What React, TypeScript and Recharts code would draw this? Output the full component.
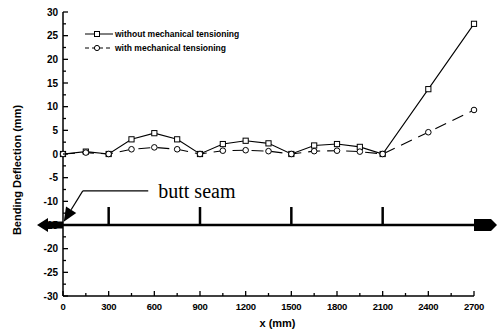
import React from "react"
import { LineChart, Line, XAxis, YAxis, ReferenceLine, Legend } from "recharts"

const positions = [0, 150, 300, 450, 600, 750, 900, 1050, 1200, 1350, 1500, 1650, 1800, 1950, 2100, 2400, 2700]
const withoutTensioning = [0, 0.5, 0, 3.1, 4.4, 3.1, 0, 2.1, 2.8, 2.25, 0, 1.8, 2.1, 1.5, 0, 13.7, 27.5]
const withTensioning = [0, 0.3, 0, 1.0, 1.4, 1.0, 0, 0.7, 0.8, 0.6, 0, 0.6, 0.7, 0.5, 0, 4.6, 9.3]

const xTicks = [0, 300, 600, 900, 1200, 1500, 1800, 2100, 2400, 2700]
const xMinorTicks = [150, 450, 750, 1050, 1350, 1650, 1950, 2250, 2550]
const yTicks = [-30, -25, -20, -15, -10, -5, 0, 5, 10, 15, 20, 25, 30]
const yMinorTicks = [-27.5, -22.5, -17.5, -12.5, -7.5, -2.5, 2.5, 7.5, 12.5, 17.5, 22.5, 27.5]

const seamPositions = [300, 900, 1500, 2100]
const seamLevel = -15
const seamMarkTop = -11.2
const leaderLevel = -7.8
const leaderStart = 130
const leaderEnd = 560
const pointerTip = { x: 5, y: -14.3 }

const seriesNames = ["without mechanical tensioning", "with mechanical tensioning"]

const data = positions.map((x, i) => ({ x, without: withoutTensioning[i], with: withTensioning[i] }))

const allX = [...xTicks, ...xMinorTicks].sort((a, b) => a - b)
const allY = [...yTicks, ...yMinorTicks].sort((a, b) => a - b)

const FONT = "'Liberation Sans', Arial, sans-serif"

function makeTick(side: string, majors: number[], showLabel: boolean) {
  return (props: any) => {
    const { x, y, payload } = props
    const v = payload.value
    const major = majors.includes(v)
    const len = major ? 5 : 3
    let line
    if (side === "bottom") line = <line x1={x} y1={y} x2={x} y2={y - len} />
    else if (side === "top") line = <line x1={x} y1={y} x2={x} y2={y + len} />
    else if (side === "left") line = <line x1={x} y1={y} x2={x + len} y2={y} />
    else line = <line x1={x} y1={y} x2={x - len} y2={y} />
    return (
      <g key={`${side}-${v}`} stroke="#000" strokeWidth={1.3}>
        {line}
        {showLabel && major && side === "bottom" && (
          <text x={x} y={y + 14} textAnchor="middle" fontSize={9.5} fontWeight="bold" fontFamily={FONT} stroke="none" fill="#000" letterSpacing={-0.3}>
            {v}
          </text>
        )}
        {showLabel && major && side === "left" && (
          <text x={x - 5} y={y + 3.5} textAnchor="end" fontSize={10} fontWeight="bold" fontFamily={FONT} stroke="none" fill="#000">
            {v}
          </text>
        )}
      </g>
    )
  }
}

const SquareDot = (props: any) => {
  const { cx, cy, index } = props
  return <rect key={`sq-${index}`} x={cx - 2.6} y={cy - 2.6} width={5.2} height={5.2} fill="#fff" stroke="#000" strokeWidth={1} />
}

const CircleDot = (props: any) => {
  const { cx, cy, index } = props
  return <circle key={`ci-${index}`} cx={cx} cy={cy} r={2.8} fill="#fff" stroke="#000" strokeWidth={1} strokeDasharray="none" />
}

const SeamBar = (p: any) => {
  const { x1, y1, x2 } = p
  const y = y1
  const left = `${x1},${y - 3.5} ${x1 - 15},${y - 3.5} ${x1 - 15},${y - 7} ${x1 - 26},${y} ${x1 - 15},${y + 7} ${x1 - 15},${y + 3.5} ${x1},${y + 3.5}`
  const right = `${x2},${y - 6} ${x2 + 17},${y - 6} ${x2 + 23},${y} ${x2 + 17},${y + 6} ${x2},${y + 6}`
  return (
    <g>
      <line x1={x1} y1={y} x2={x2} y2={y} stroke="#000" strokeWidth={2.5} />
      <polygon points={left} fill="#000" />
      <polygon points={right} fill="#000" />
    </g>
  )
}

const Pointer = (p: any) => {
  const { x1, y1, x2, y2 } = p
  const dx = x2 - x1
  const dy = y2 - y1
  const len = Math.hypot(dx, dy)
  const ux = dx / len
  const uy = dy / len
  const headLen = 14
  const half = 6
  const bx = x2 - ux * headLen
  const by = y2 - uy * headLen
  return (
    <g>
      <line x1={x1} y1={y1} x2={bx} y2={by} stroke="#000" strokeWidth={1.2} />
      <polygon points={`${x2},${y2} ${bx - uy * half},${by + ux * half} ${bx + uy * half},${by - ux * half}`} fill="#000" />
    </g>
  )
}

const renderLegend = () => (
  <svg width={170} height={28} style={{ display: "block" }}>
    <line x1={2} x2={30} y1={7} y2={7} stroke="#000" strokeWidth={1} />
    <rect x={11.5} y={4.5} width={5} height={5} fill="#fff" stroke="#000" />
    <text x={32} y={10} fontSize={8.5} fontWeight="bold" fontFamily={FONT}>
      {seriesNames[0]}
    </text>
    <line x1={2} x2={30} y1={21} y2={21} stroke="#000" strokeWidth={1} strokeDasharray="4 3" />
    <circle cx={14} cy={21} r={2.6} fill="#fff" stroke="#000" />
    <text x={32} y={24} fontSize={8.5} fontWeight="bold" fontFamily={FONT}>
      {seriesNames[1]}
    </text>
  </svg>
)

export default function App() {
  return (
    <div style={{ position: "absolute", left: 0, top: 0, background: "#fff" }}>
      <LineChart width={498} height={336} data={data} margin={{ top: 12, right: 24, bottom: 0, left: 0 }}>
        <XAxis
          dataKey="x"
          type="number"
          domain={[0, 2700]}
          ticks={allX}
          interval={0}
          tickSize={0}
          tickMargin={0}
          tickLine={false}
          height={40}
          axisLine={{ stroke: "#000", strokeWidth: 1.5 }}
          tick={makeTick("bottom", xTicks, true)}
          label={{
            position: "center",
            content: (lp: any) => {
              const vb = lp.viewBox
              return (
                <text x={vb.x + vb.width / 2 + 9} y={vb.y + 31} textAnchor="middle" fontSize={11} fontWeight="bold" fontFamily={FONT}>
                  x (mm)
                </text>
              )
            },
          }}
        />
        <XAxis
          xAxisId="top"
          orientation="top"
          dataKey="x"
          type="number"
          domain={[0, 2700]}
          ticks={allX}
          interval={0}
          tickSize={0}
          tickMargin={0}
          tickLine={false}
          height={0}
          axisLine={{ stroke: "#000", strokeWidth: 1.5 }}
          tick={makeTick("top", xTicks, false)}
        />
        <YAxis
          type="number"
          domain={[-30, 30]}
          ticks={allY}
          interval={0}
          tickSize={0}
          tickMargin={0}
          tickLine={false}
          width={63}
          axisLine={{ stroke: "#000", strokeWidth: 1.5 }}
          tick={makeTick("left", yTicks, true)}
          label={{
            position: "center",
            content: (lp: any) => {
              const vb = lp.viewBox
              return (
                <text
                  transform={`translate(${vb.x + 21}, ${vb.y + vb.height / 2 + 16}) rotate(-90)`}
                  textAnchor="middle"
                  fontSize={11}
                  fontWeight="bold"
                  fontFamily={FONT}
                >
                  Bending Deflection (mm)
                </text>
              )
            },
          }}
        />
        <YAxis
          yAxisId="right"
          orientation="right"
          type="number"
          domain={[-30, 30]}
          ticks={yTicks}
          interval={0}
          tickSize={0}
          tickMargin={0}
          tickLine={false}
          width={0}
          axisLine={{ stroke: "#000", strokeWidth: 1.5 }}
          tick={makeTick("right", yTicks, false)}
        />
        <Legend layout="horizontal" verticalAlign="middle" align="center" wrapperStyle={{ top: 27, left: 83, width: 170, height: 28 }} content={renderLegend} />

        <ReferenceLine y={seamLevel} shape={SeamBar} ifOverflow="visible" />
        {seamPositions.map((sx) => (
          <ReferenceLine
            key={sx}
            segment={[
              { x: sx, y: seamLevel },
              { x: sx, y: seamMarkTop },
            ]}
            stroke="#000"
            strokeWidth={2.5}
          />
        ))}
        <ReferenceLine
          segment={[
            { x: leaderStart, y: leaderLevel },
            { x: leaderEnd, y: leaderLevel },
          ]}
          stroke="#000"
          strokeWidth={1.2}
          label={{ value: "butt seam", position: "right", offset: 10, fontSize: 20, fill: "#000", fontFamily: "'Liberation Serif', 'Times New Roman', serif" }}
        />
        <ReferenceLine
          segment={[
            { x: leaderStart, y: leaderLevel },
            { x: pointerTip.x, y: pointerTip.y },
          ]}
          shape={Pointer}
          ifOverflow="visible"
        />

        <Line dataKey="without" type="linear" stroke="#000" strokeWidth={1.1} dot={SquareDot} isAnimationActive={false} />
        <Line dataKey="with" type="linear" stroke="#000" strokeWidth={1.1} strokeDasharray="12 7" dot={CircleDot} isAnimationActive={false} />
      </LineChart>
    </div>
  )
}
